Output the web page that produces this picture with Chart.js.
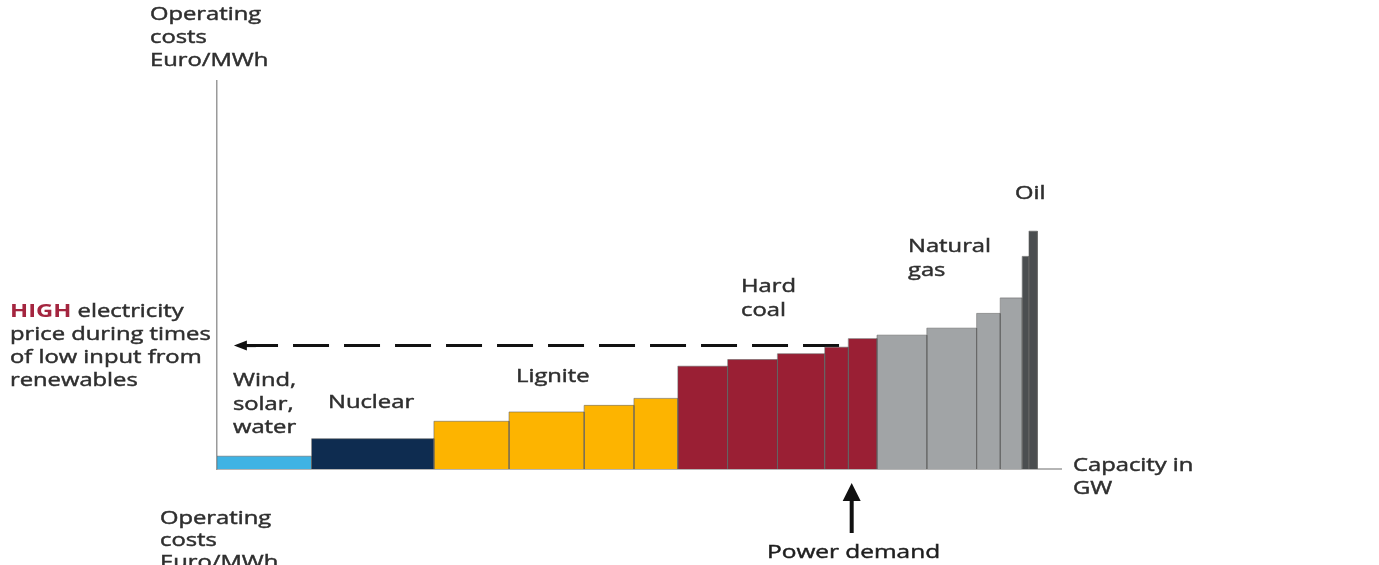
<!DOCTYPE html>
<html>
<head>
<meta charset="utf-8">
<script src="https://cdn.jsdelivr.net/npm/chart.js@4/dist/chart.umd.min.js"></script>
<style>
  html, body { margin: 0; padding: 0; background: #fff; }
  #wrap { width: 1379px; height: 565px; }
</style>
</head>
<body>
<div id="wrap"><canvas id="merit" width="1379" height="565"></canvas></div>
<script>
// capacity in GW, operating cost in Euro/MWh (no scale given)
const sources = ["Wind, solar, water", "Nuclear", "Lignite", "Hard coal", "Natural gas", "Oil"];
const windCapacity = [11.2];
const windCost = [3.3];
const nuclearCapacity = [14.5];
const nuclearCost = [7.8];
const ligniteCapacity = [8.9, 8.9, 5.9, 5.2];
const ligniteCost = [12.3, 14.7, 16.4, 18.2];
const coalCapacity = [5.9, 5.9, 5.6, 2.8, 3.4];
const coalCost = [26.5, 28.2, 29.7, 31.4, 33.6];
const gasCapacity = [5.9, 5.9, 2.8, 2.6];
const gasCost = [34.5, 36.3, 40.1, 44.1];
const oilCapacity = [0.8, 1.0];
const oilCost = [54.8, 61.3];

const powerDemand = 75.2;     // GW
const priceLevel = 31.8;      // Euro/MWh, the dashed line
const priceLineStart = 73.7;  // GW where the dashed line starts
const priceLineEnd = 2.0;     // GW, arrow tip

const sourceColors = ["#3fb3e4", "#0e2c50", "#fdb400", "#9a1f34", "#a1a4a6", "#4b4e50"];
const capacityLists = [windCapacity, nuclearCapacity, ligniteCapacity, coalCapacity, gasCapacity, oilCapacity];
const costLists = [windCost, nuclearCost, ligniteCost, coalCost, gasCost, oilCost];

const TEXT = "#2f2f2f";
const FONT = "'Open Sans', sans-serif";
const STRETCH = 1.32;

function buildDatasets() {
  const sets = [];
  let x = 0;
  capacityLists.forEach((caps, i) => {
    caps.forEach((cap, j) => {
      const h = costLists[i][j];
      sets.push({
        label: sources[i],
        data: [{ x: x, y: 0 }, { x: x, y: h }, { x: x + cap, y: h }, { x: x + cap, y: 0 }],
        showLine: true,
        fill: "origin",
        backgroundColor: sourceColors[i],
        borderColor: "rgba(95,95,95,0.55)",
        borderWidth: 1,
        pointRadius: 0,
        tension: 0,
      });
      x += cap;
    });
  });
  // dashed price line back to the axis
  sets.push({
    label: "price",
    data: [{ x: priceLineStart, y: priceLevel }, { x: priceLineEnd + 1.0, y: priceLevel }],
    showLine: true,
    fill: false,
    borderColor: "#111",
    borderWidth: 3,
    borderDash: [36, 15],
    pointRadius: 0,
  });
  return sets;
}

function drawText(ctx, str, x, y, opts = {}) {
  ctx.save();
  ctx.font = `${opts.bold ? "700 " : ""}${opts.size || 18}px ${FONT}`;
  ctx.fillStyle = opts.color || TEXT;
  ctx.strokeStyle = opts.color || TEXT;
  ctx.lineWidth = 0.45;
  ctx.textBaseline = "middle";
  ctx.textAlign = "left";
  ctx.translate(x, y);
  ctx.scale(STRETCH, 1);
  ctx.fillText(str, 0, 0);
  if (!opts.bold) ctx.strokeText(str, 0, 0);
  const w = ctx.measureText(str).width * STRETCH;
  ctx.restore();
  return w;
}

function drawLines(ctx, lines, x, y, step) {
  lines.forEach((l, i) => drawText(ctx, l, x, y + i * step));
}

const annotations = {
  id: "annotations",
  afterDraw(chart) {
    const ctx = chart.ctx;
    const xs = chart.scales.x;
    const ys = chart.scales.y;

    // arrow head of the price line
    const tipX = xs.getPixelForValue(priceLineEnd);
    const py = ys.getPixelForValue(priceLevel);
    ctx.save();
    ctx.fillStyle = "#111";
    ctx.beginPath();
    ctx.moveTo(tipX, py);
    ctx.lineTo(tipX + 13, py - 5);
    ctx.lineTo(tipX + 13, py + 5);
    ctx.closePath();
    ctx.fill();
    ctx.fillRect(tipX + 10, py - 1.5, 12, 3);

    // power demand arrow
    const dx = xs.getPixelForValue(powerDemand);
    const base = ys.getPixelForValue(0);
    ctx.fillRect(dx - 2, base + 30, 4, 34);
    ctx.beginPath();
    ctx.moveTo(dx, base + 14);
    ctx.lineTo(dx - 9, base + 32);
    ctx.lineTo(dx + 9, base + 32);
    ctx.closePath();
    ctx.fill();
    ctx.restore();

    // axis captions
    drawLines(ctx, ["Operating", "costs", "Euro/MWh"], 150, 15, 23);
    drawLines(ctx, ["Capacity in", "GW"], 1073, 466, 23);
    drawLines(ctx, ["Operating", "costs", "Euro/MWh"], 160, 519, 22);
    drawText(ctx, "Power demand", 767, 553, { size: 18.5, color: "#1e1e1e" });

    // price note
    const w = drawText(ctx, "HIGH", 10, 312, { bold: true, color: "#a4253f" });
    drawText(ctx, " electricity", 10 + w, 312);
    drawLines(ctx, ["price during times", "of low input from", "renewables"], 10, 335, 23);

    // source labels
    drawLines(ctx, ["Wind,", "solar,", "water"], 233, 381, 23.5);
    drawText(ctx, "Nuclear", 328, 403);
    drawText(ctx, "Lignite", 516, 377);
    drawLines(ctx, ["Hard", "coal"], 741, 287, 24);
    drawLines(ctx, ["Natural", "gas"], 908, 247, 24);
    drawText(ctx, "Oil", 1015, 194);
  },
};

new Chart(document.getElementById("merit"), {
  type: "scatter",
  data: { datasets: buildDatasets() },
  options: {
    responsive: false,
    animation: false,
    devicePixelRatio: 1,
    layout: { padding: { left: 209, right: 318, top: 81, bottom: 88 } },
    plugins: { legend: { display: false }, tooltip: { enabled: false } },
    scales: {
      x: {
        type: "linear",
        min: 0,
        max: 100,
        grid: { display: false },
        ticks: { display: false },
        border: { display: true, color: "#b5b5b5", width: 2 },
      },
      y: {
        min: 0,
        max: 100,
        grid: { display: false },
        ticks: { display: false },
        border: { display: true, color: "#9a9a9a", width: 1.5 },
      },
    },
  },
  plugins: [annotations],
});
</script>
</body>
</html>
